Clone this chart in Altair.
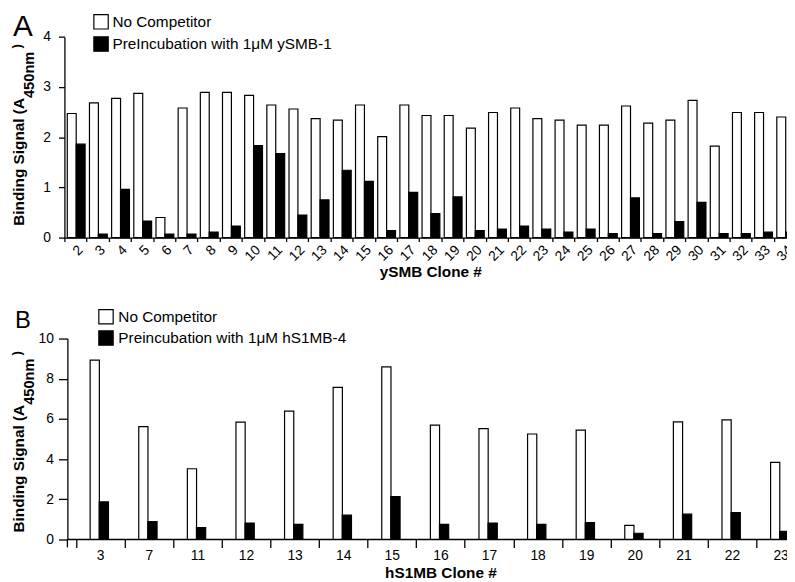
import altair as alt
import pandas as pd

FONT = "Liberation Sans"

a_clones = [str(i) for i in range(2, 35)]
a_series = ["No Competitor", "PreIncubation with 1\u03bcM ySMB-1"]
a_none = [2.47, 2.68, 2.77, 2.87, 0.40, 2.58, 2.89, 2.89, 2.83, 2.64, 2.56, 2.37, 2.34, 2.64, 2.01,
          2.64, 2.43, 2.43, 2.18, 2.49, 2.58, 2.37, 2.34, 2.24, 2.24, 2.62, 2.28, 2.34, 2.73, 1.82,
          2.49, 2.49, 2.40]
a_pre = [1.86, 0.07, 0.96, 0.33, 0.07, 0.07, 0.11, 0.23, 1.83, 1.67, 0.45, 0.75, 1.34, 1.12, 0.14,
         0.90, 0.48, 0.81, 0.14, 0.17, 0.23, 0.17, 0.11, 0.17, 0.08, 0.79, 0.08, 0.32, 0.70, 0.08,
         0.08, 0.11, 0.11]

b_clones = ["3", "7", "11", "12", "13", "14", "15", "16", "17", "18", "19", "20", "21", "22", "23"]
b_series = ["No Competitor", "Preincubation with 1\u03bcM hS1MB-4"]
b_none = [8.93, 5.62, 3.52, 5.84, 6.39, 7.57, 8.59, 5.69, 5.52, 5.25, 5.44, 0.70, 5.85, 5.95, 3.84]
b_pre = [1.87, 0.89, 0.59, 0.82, 0.75, 1.21, 2.13, 0.75, 0.82, 0.75, 0.84, 0.31, 1.26, 1.34, 0.41]


def long_df(clones, series, v1, v2):
    rows = []
    for c, a, b in zip(clones, v1, v2):
        rows.append({"clone": c, "series": series[0], "value": a})
        rows.append({"clone": c, "series": series[1], "value": b})
    return pd.DataFrame(rows)


def one_row():
    return pd.DataFrame({"t": [""]})


def text_layer(txt, x, y, size, weight="normal", angle=0, align="left", baseline="alphabetic"):
    kw = dict(font=FONT, fontSize=size, fontWeight=weight, align=align, baseline=baseline, color="black")
    if angle:
        kw["angle"] = angle
    return alt.Chart(pd.DataFrame({"t": [txt]})).mark_text(**kw).encode(
        text="t:N", x=alt.value(x), y=alt.value(y))


def panel(letter, clones, series, v1, v2, ymax, ystep, xtitle, width, height, x_pad_outer,
          bar_w, offs, rotate, tick_x, tick_y, ylab_pad, yaxis_offset, legend_xy, legend_row,
          legend_off, letter_pos, letter_size, title_y, xtitle_pad):
    df = long_df(clones, series, v1, v2)
    own_domain = yaxis_offset != 0
    if rotate:
        xaxis = alt.Axis(labelAngle=315, labelAlign="right", labelBaseline="top", labelPadding=1,
                         tickBand="extent", tickSize=tick_x, title=xtitle, titlePadding=xtitle_pad,
                         domain=not own_domain)
    else:
        xaxis = alt.Axis(labelAngle=0, labelAlign="center", labelBaseline="top", labelPadding=1,
                         tickBand="extent", tickSize=tick_x, title=xtitle, titlePadding=xtitle_pad,
                         domain=not own_domain)
    legend = alt.Legend(title=None, orient="none", legendX=legend_xy[0], legendY=legend_xy[1],
                        symbolType="square", symbolSize=210, symbolStrokeColor="black",
                        symbolStrokeWidth=1.2, labelFontSize=15.5, labelFont=FONT,
                        labelColor="black", labelOffset=legend_off, rowPadding=legend_row,
                        padding=0, labelLimit=400)
    enc = dict(
        x=alt.X("clone:N", sort=clones,
                scale=alt.Scale(paddingInner=0, paddingOuter=x_pad_outer), axis=xaxis),
        y=alt.Y("value:Q", scale=alt.Scale(domain=[0, ymax], nice=False),
                axis=alt.Axis(values=list(range(0, ymax + 1, ystep)), title=None, grid=False,
                              tickSize=tick_y, labelPadding=ylab_pad, offset=yaxis_offset)),
        fill=alt.Fill("series:N", scale=alt.Scale(domain=series, range=["white", "black"]),
                      legend=legend),
    )
    layers = []
    for s, off in zip(series, offs):
        layers.append(
            alt.Chart(df).transform_filter(alt.datum.series == s)
            .mark_bar(width=bar_w, xOffset=off, stroke="black", strokeWidth=1.2)
            .encode(**enc)
        )
    tx = -41.2
    layers.append(text_layer("Binding Signal (A", tx, title_y, 15.5, "bold", 270))
    layers.append(text_layer("450nm", tx + 10, title_y - 129, 14.8, "bold", 270))
    layers.append(text_layer(")", tx - 2.5, title_y - 179, 13, "bold", 270))
    layers.append(text_layer(letter, letter_pos[0], letter_pos[1], letter_size))
    if own_domain:
        layers.append(alt.Chart(one_row()).mark_rule(color="black", strokeWidth=1.3).encode(
            x=alt.value(-yaxis_offset), x2=alt.value(width), y=alt.value(height)))
        layers.append(alt.Chart(one_row()).mark_rule(color="black", strokeWidth=1.3).encode(
            x=alt.value(-yaxis_offset), y=alt.value(height), y2=alt.value(height + tick_x)))
    return alt.layer(*layers).properties(width=width, height=height)


chart_a = panel("A", a_clones, a_series, a_none, a_pre, 4, 1, "ySMB Clone #",
                width=33 * 22.4, height=203, x_pad_outer=0, bar_w=9, offs=(-3.8, 5.2),
                rotate=True, tick_x=4, tick_y=6, ylab_pad=8, yaxis_offset=0,
                legend_xy=(29, -23), legend_row=2.5, legend_off=3.5,
                letter_pos=(-52, -1), letter_size=30, title_y=191, xtitle_pad=1)
chart_b = panel("B", b_clones, b_series, b_none, b_pre, 10, 2, "hS1MB Clone #",
                width=15 * 49.1 + 2 * 11.6, height=203, x_pad_outer=0.236, bar_w=9.3,
                offs=(-5.5, 3.7), rotate=False, tick_x=8, tick_y=9, ylab_pad=5, yaxis_offset=-3,
                legend_xy=(34, -30), legend_row=1.5, legend_off=4.5,
                letter_pos=(-50, -11), letter_size=24, title_y=196, xtitle_pad=3)

chart = alt.vconcat(chart_a, chart_b, spacing=29).resolve_scale(
    fill="independent", x="independent", y="independent"
).configure_view(stroke=None).configure_axis(
    labelFont=FONT, labelFontSize=14, labelColor="black", domainColor="black",
    domainWidth=1.3, tickColor="black", tickWidth=1.3, titleFont=FONT, titleFontSize=15.5,
    titleFontWeight="bold", titleColor="black"
).properties(
    autosize=alt.AutoSizeParams(type="none"),
    padding={"left": 57, "top": 26, "right": 730, "bottom": 548},
)

chart.save("out.html", embed_options={"renderer": "svg", "actions": False})
